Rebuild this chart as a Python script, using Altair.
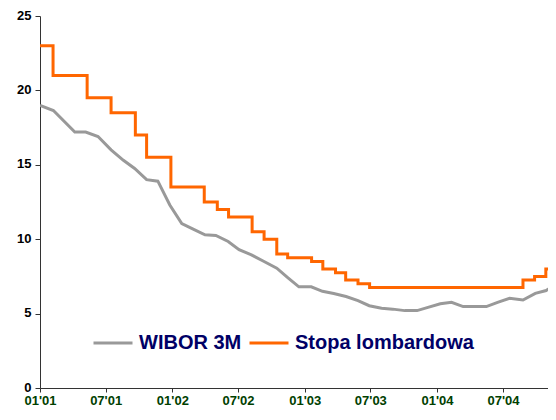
import altair as alt
import pandas as pd

# WIBOR 3M (monthly readings)
wibor_dates = [
    "2001-01-01", "2001-02-07", "2001-04-07", "2001-05-07", "2001-06-10", "2001-07-16",
    "2001-08-19", "2001-09-19", "2001-10-22", "2001-11-22", "2001-12-25", "2002-01-27",
    "2002-02-26", "2002-04-01", "2002-05-01", "2002-06-04", "2002-07-04", "2002-08-07",
    "2002-09-07", "2002-10-16", "2002-11-16", "2002-12-16", "2003-01-19", "2003-02-19",
    "2003-03-22", "2003-04-25", "2003-05-28", "2003-06-28", "2003-08-01", "2003-09-01",
    "2003-10-04", "2003-11-07", "2003-12-07", "2004-01-10", "2004-02-10", "2004-03-13",
    "2004-04-13", "2004-05-16", "2004-06-16", "2004-07-19", "2004-08-25", "2004-09-28",
    "2004-10-28", "2004-11-25",
]
wibor_values = [
    19.0, 18.65, 17.2, 17.2, 16.9, 16.0,
    15.3, 14.75, 14.0, 13.9, 12.3, 11.05,
    10.7, 10.3, 10.25, 9.85, 9.3, 8.95,
    8.55, 8.05, 7.4, 6.8, 6.8, 6.5,
    6.35, 6.15, 5.87, 5.53, 5.36, 5.3,
    5.2, 5.2, 5.42, 5.66, 5.76, 5.47,
    5.47, 5.47, 5.76, 6.03, 5.91, 6.36,
    6.55, 7.03,
]

# Stopa lombardowa (step changes)
lomb_dates = [
    "2001-01-01", "2001-02-06", "2001-05-11", "2001-07-16", "2001-09-21", "2001-10-22",
    "2001-12-28", "2002-03-30", "2002-05-05", "2002-06-05", "2002-08-09", "2002-09-11",
    "2002-10-16", "2002-11-15", "2003-01-20", "2003-02-20", "2003-03-27", "2003-04-24",
    "2003-05-28", "2003-06-29", "2004-08-25", "2004-09-26", "2004-10-27", "2004-11-25",
]
lomb_values = [
    23.0, 21.0, 19.5, 18.5, 17.0, 15.5,
    13.5, 12.5, 12.0, 11.5, 10.5, 10.0,
    9.0, 8.75, 8.5, 8.0, 7.75, 7.25,
    7.0, 6.75, 7.25, 7.5, 8.0, 8.0,
]

series_names = ["WIBOR 3M", "Stopa lombardowa"]
series_colors = ["#999999", "#FF6600"]
tick_years_months = [(2001, 1), (2001, 7), (2002, 1), (2002, 7), (2003, 1), (2003, 7), (2004, 1), (2004, 7)]
y_ticks = [0, 5, 10, 15, 20, 25]

wibor_df = pd.DataFrame({"date": wibor_dates, "value": wibor_values, "series": series_names[0]})
lomb_df = pd.DataFrame({"date": lomb_dates, "value": lomb_values, "series": series_names[1]})

x_enc = alt.X(
    "date:T",
    scale=alt.Scale(type="utc", domain=[alt.DateTime(year=2001, month=1, date=1, utc=True),
                                        alt.DateTime(year=2004, month=11, date=2, utc=True)]),
    axis=alt.Axis(
        values=[alt.DateTime(year=y, month=m, date=1, utc=True) for y, m in tick_years_months],
        labelExpr="utcFormat(datum.value, \"%m'%y\")", title=None, grid=False,
        labelColor="#004000", labelFont="Liberation Sans", labelFontWeight="bold", labelFontSize=13,
        labelPadding=2, tickSize=4, tickColor="#333333", domainColor="#333333",
        labelOverlap=False, labelFlush=False,
    ),
)
y_enc = alt.Y(
    "value:Q",
    scale=alt.Scale(domain=[0, 25]),
    axis=alt.Axis(
        values=y_ticks, title=None, grid=False,
        labelColor="#000000", labelFont="Liberation Sans", labelFontWeight="bold", labelFontSize=13,
        labelPadding=4, labelOffset=-1, tickSize=5, tickColor="#333333", domainColor="#333333",
    ),
)
color_enc = alt.Color(
    "series:N",
    scale=alt.Scale(domain=series_names, range=series_colors),
    legend=alt.Legend(
        orient="none", legendX=52, legendY=306, direction="horizontal", title=None,
        symbolType="stroke", symbolStrokeWidth=3, symbolSize=1521,
        labelFont="Liberation Sans", labelFontSize=20, labelFontWeight="bold",
        labelColor="#000066", labelOffset=5, columnPadding=1, padding=0, labelLimit=400,
    ),
)

wibor = alt.Chart(wibor_df).mark_line(strokeWidth=3, clip=True).encode(
    x=x_enc, y=y_enc, color=color_enc
)
lomb = alt.Chart(lomb_df).mark_line(strokeWidth=3, interpolate="step-after", clip=True).encode(
    x=x_enc, y=y_enc, color=color_enc
)

chart = alt.layer(wibor, lomb).properties(
    width=508, height=372,
    autosize=alt.AutoSizeParams(type="none"),
    padding={"left": 32, "top": 8, "right": 0, "bottom": 19},
    background="white",
).configure_view(stroke=None)

chart.save("out.html", embed_options={"renderer": "svg", "actions": False})
